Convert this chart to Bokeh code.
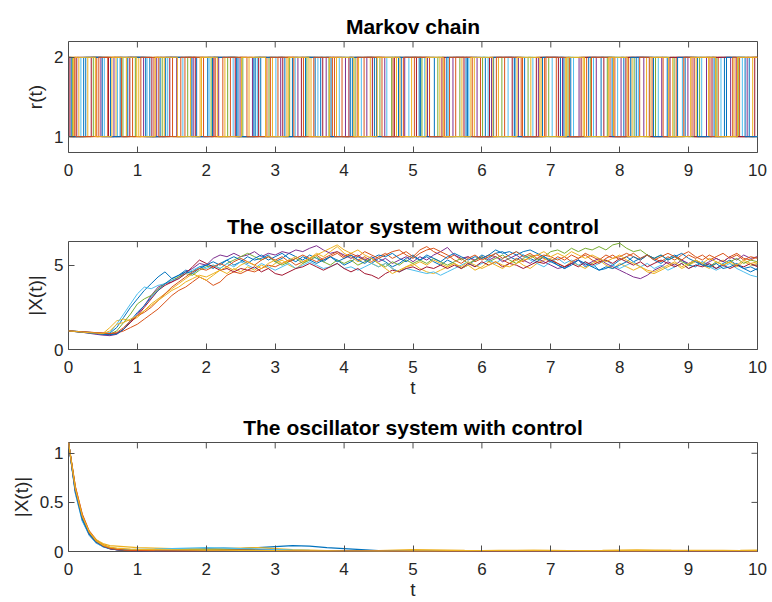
from bokeh.plotting import figure
from bokeh.layouts import column
from bokeh.models import LinearAxis, Range1d, FixedTicker
from bokeh.embed import file_html
from bokeh.resources import INLINE
import numpy as np

# ---------------- data ----------------
colors = ["#0072BD", "#D95319", "#EDB120", "#7E2F8E", "#77AC30", "#4DBEEE", "#A2142F"]

# Markov chain r(t): switching times of each sample path, and start state
markov_start = [2, 1, 2, 1, 2, 1, 2, 1, 2, 1]
m1 = [0.04, 0.22, 0.61, 0.75, 1.18, 1.33, 1.86, 2.02, 2.44, 2.71, 2.79, 3.25, 3.58, 3.66, 4.12, 4.47, 4.83, 5.09, 5.31, 5.77, 6.05, 6.48, 6.62, 7.14, 7.29, 7.73, 8.06, 8.24, 8.69, 8.95, 9.37, 9.52, 9.88]
m2 = [0.09, 0.41, 0.57, 0.93, 1.24, 1.51, 1.69, 2.13, 2.35, 2.88, 3.04, 3.41, 3.83, 3.97, 4.29, 4.71, 5.02, 5.46, 5.62, 5.98, 6.33, 6.57, 6.91, 7.08, 7.52, 7.86, 8.13, 8.47, 8.82, 9.05, 9.43, 9.74]
m3 = [0.15, 0.28, 0.69, 0.84, 1.02, 1.39, 1.77, 1.93, 2.27, 2.62, 2.96, 3.17, 3.52, 3.89, 4.21, 4.38, 4.76, 4.98, 5.39, 5.71, 5.89, 6.24, 6.71, 6.86, 7.21, 7.47, 7.91, 8.18, 8.39, 8.77, 9.11, 9.29, 9.66, 9.93]
m4 = [0.12, 0.47, 0.66, 1.09, 1.28, 1.57, 1.81, 2.18, 2.49, 2.67, 3.08, 3.33, 3.74, 4.02, 4.33, 4.59, 4.88, 5.21, 5.58, 5.93, 6.14, 6.53, 6.82, 7.17, 7.41, 7.66, 8.02, 8.35, 8.61, 8.99, 9.26, 9.61, 9.85]
m5 = [0.06, 0.36, 0.79, 0.97, 1.36, 1.73, 2.07, 2.31, 2.53, 2.91, 3.21, 3.46, 3.78, 4.16, 4.52, 4.69, 5.13, 5.36, 5.68, 6.01, 6.29, 6.67, 6.97, 7.25, 7.58, 7.82, 8.21, 8.52, 8.79, 9.16, 9.41, 9.72]
m6 = [0.18, 0.52, 0.71, 1.14, 1.44, 1.66, 2.04, 2.39, 2.74, 3.01, 3.29, 3.62, 3.93, 4.25, 4.62, 4.94, 5.17, 5.51, 5.81, 6.09, 6.38, 6.74, 7.02, 7.33, 7.62, 7.97, 8.27, 8.56, 8.91, 9.19, 9.47, 9.78]
m7 = [0.02, 0.33, 0.58, 0.89, 1.21, 1.47, 1.84, 2.11, 2.42, 2.76, 3.11, 3.38, 3.69, 4.07, 4.41, 4.73, 5.05, 5.42, 5.74, 6.11, 6.44, 6.79, 7.11, 7.44, 7.77, 8.09, 8.43, 8.73, 9.08, 9.34, 9.69, 9.96]
m8 = [0.25, 0.49, 0.86, 1.12, 1.41, 1.79, 2.09, 2.46, 2.69, 3.14, 3.44, 3.81, 4.09, 4.44, 4.79, 5.11, 5.49, 5.79, 6.17, 6.47, 6.88, 7.19, 7.55, 7.89, 8.16, 8.49, 8.84, 9.13, 9.55, 9.82]
m9 = [0.11, 0.44, 0.77, 1.05, 1.31, 1.63, 1.96, 2.24, 2.59, 2.93, 3.27, 3.56, 3.86, 4.19, 4.55, 4.86, 5.24, 5.53, 5.86, 6.21, 6.59, 6.93, 7.27, 7.59, 7.93, 8.29, 8.63, 8.93, 9.31, 9.64]
m10 = [0.07, 0.39, 0.63, 0.99, 1.26, 1.58, 1.91, 2.16, 2.51, 2.86, 3.19, 3.49, 3.79, 4.14, 4.48, 4.81, 5.19, 5.44, 5.84, 6.16, 6.51, 6.84, 7.23, 7.49, 7.84, 8.11, 8.44, 8.71, 9.03, 9.39, 9.71]
markov_switches = [m1, m2, m3, m4, m5, m6, m7, m8, m9, m10]

# |X(t)| without control, sampled at t = 0, 0.1, ..., 10
u1 = [1.10, 1.08, 1.05, 1.02, 0.98, 0.95, 0.97, 1.3, 1.9, 2.5, 3.0, 3.5, 3.9, 4.3, 4.6, 4.2, 4.4, 4.7, 4.6, 4.9, 5.0, 4.8, 5.1, 5.3, 5.0, 5.2, 5.5, 5.3, 5.4, 5.6, 5.2, 5.4, 5.7, 5.5, 5.3, 5.6, 5.4, 5.2, 5.5, 5.3, 5.0, 5.2, 5.5, 5.3, 5.1, 5.4, 5.2, 4.9, 5.1, 5.4, 5.6, 5.3, 5.5, 5.2, 5.0, 5.3, 5.1, 4.8, 5.0, 5.3, 5.6, 5.4, 5.7, 5.8, 5.5, 5.3, 5.6, 5.4, 5.2, 5.5, 5.3, 5.0, 4.8, 5.1, 5.3, 4.9, 5.1, 4.7, 4.8, 5.0, 5.3, 5.5, 5.2, 5.4, 5.6, 5.3, 5.1, 5.4, 5.6, 5.3, 5.0, 4.9, 5.2, 5.0, 4.8, 5.1, 5.3, 5.0, 4.8, 4.9, 4.7]
u2 = [1.10, 1.07, 1.04, 1.02, 1.00, 0.98, 0.95, 0.97, 1.1, 1.3, 1.5, 1.8, 2.1, 2.4, 2.8, 3.2, 3.5, 3.7, 4.0, 4.3, 4.1, 3.8, 4.0, 4.4, 4.6, 4.5, 4.7, 4.6, 4.8, 5.0, 4.9, 5.1, 5.3, 5.0, 5.2, 5.4, 5.6, 5.3, 5.5, 5.7, 5.4, 5.6, 5.3, 5.5, 5.2, 5.5, 5.7, 5.4, 5.6, 5.8, 5.5, 5.9, 6.1, 5.8, 5.6, 5.4, 5.6, 5.3, 5.5, 5.2, 5.4, 5.6, 5.5, 5.3, 5.1, 5.4, 5.2, 5.5, 5.6, 5.4, 5.2, 5.5, 5.3, 5.6, 5.4, 5.7, 5.5, 5.3, 5.6, 5.4, 5.5, 5.7, 5.5, 5.3, 5.6, 5.4, 5.2, 5.5, 5.3, 5.6, 5.8, 5.5, 5.3, 5.6, 5.4, 5.2, 5.5, 5.7, 5.4, 5.3, 5.5]
u3 = [1.10, 1.06, 1.03, 1.00, 0.97, 0.95, 1.3, 1.7, 1.8, 1.7, 1.9, 2.3, 2.7, 3.0, 3.3, 3.6, 3.9, 4.2, 4.5, 4.3, 4.1, 4.4, 4.7, 4.5, 4.8, 4.6, 4.9, 4.7, 5.0, 4.8, 5.1, 5.3, 5.0, 4.8, 5.1, 5.4, 5.7, 5.5, 5.8, 6.1, 5.7, 5.5, 5.2, 5.4, 5.1, 4.9, 5.1, 4.8, 4.6, 4.9, 5.1, 4.8, 4.6, 4.5, 4.7, 4.9, 5.1, 4.8, 5.0, 4.7, 4.9, 5.2, 5.0, 4.8, 5.1, 5.3, 5.0, 4.8, 5.1, 5.3, 5.4, 5.1, 4.9, 5.2, 5.0, 4.8, 5.1, 5.3, 5.0, 4.8, 5.1, 4.9, 4.7, 4.9, 4.6, 4.5, 4.7, 4.9, 5.1, 4.8, 5.0, 5.2, 5.0, 4.8, 5.1, 5.3, 5.1, 4.9, 5.2, 5.0, 5.1]
u4 = [1.10, 1.06, 1.02, 0.96, 0.90, 0.85, 0.82, 0.90, 1.2, 1.6, 2.1, 2.6, 3.2, 3.7, 3.9, 4.0, 4.3, 4.6, 4.8, 5.1, 5.0, 5.4, 5.6, 5.5, 5.7, 5.5, 5.6, 5.8, 5.5, 5.7, 5.6, 5.8, 5.7, 5.9, 5.8, 6.0, 6.15, 5.9, 5.7, 5.8, 5.6, 5.4, 5.6, 5.3, 5.5, 5.2, 5.4, 5.1, 5.3, 5.5, 5.2, 5.5, 5.3, 5.6, 5.8, 6.05, 5.6, 5.4, 5.5, 5.3, 5.5, 5.3, 5.5, 5.2, 5.4, 5.6, 5.3, 5.1, 5.4, 5.2, 5.0, 4.8, 4.9, 5.1, 5.3, 5.0, 5.2, 5.4, 5.1, 4.9, 4.7, 4.5, 4.3, 4.2, 4.4, 4.7, 4.9, 5.2, 5.0, 5.3, 5.1, 5.3, 5.0, 5.2, 5.4, 5.2, 5.5, 5.3, 5.6, 5.4, 5.5]
u5 = [1.10, 1.07, 1.03, 0.99, 0.96, 0.93, 0.91, 1.1, 1.6, 2.1, 2.7, 3.0, 3.2, 3.6, 3.9, 4.1, 4.3, 4.5, 4.4, 4.7, 4.9, 5.0, 4.8, 5.1, 5.3, 5.5, 5.7, 5.5, 5.3, 5.5, 5.2, 5.0, 5.2, 5.4, 5.1, 5.3, 5.5, 5.2, 5.0, 5.3, 5.1, 5.3, 5.0, 5.2, 5.4, 5.1, 4.9, 5.2, 5.0, 5.3, 5.1, 5.3, 5.1, 5.4, 5.2, 5.0, 5.2, 5.4, 5.1, 5.3, 5.5, 5.2, 5.4, 5.6, 5.3, 5.1, 5.4, 5.6, 5.3, 5.5, 5.8, 5.9, 5.7, 6.0, 5.8, 6.0, 5.9, 6.1, 5.9, 6.2, 6.3, 6.0, 5.8, 5.9, 5.6, 5.4, 5.6, 5.3, 5.5, 5.2, 5.0, 5.3, 5.1, 4.9, 5.2, 5.0, 5.2, 5.4, 5.1, 5.3, 5.2]
u6 = [1.10, 1.08, 1.05, 1.01, 0.97, 0.94, 1.0, 1.5, 2.1, 2.7, 3.3, 3.7, 3.6, 3.8, 3.9, 4.1, 4.2, 4.5, 4.7, 4.9, 4.8, 5.0, 4.8, 5.1, 4.9, 5.2, 5.0, 4.8, 5.1, 4.9, 4.7, 4.9, 5.1, 4.8, 5.0, 5.2, 5.0, 4.8, 4.9, 5.1, 4.8, 4.9, 4.7, 4.9, 5.1, 4.9, 5.1, 4.8, 4.6, 4.8, 4.7, 4.6, 4.5, 4.6, 4.4, 4.6, 4.8, 5.0, 5.2, 4.9, 5.1, 5.3, 5.1, 5.4, 5.6, 5.8, 5.6, 5.3, 5.1, 4.9, 5.2, 5.4, 5.1, 5.3, 5.0, 5.2, 4.9, 5.1, 5.3, 5.0, 4.8, 5.0, 5.2, 4.9, 5.1, 4.8, 5.0, 4.7, 4.9, 5.1, 4.8, 5.0, 5.2, 4.9, 4.7, 4.9, 5.1, 4.8, 4.6, 4.4, 4.3]
u7 = [1.10, 1.07, 1.04, 1.00, 0.96, 0.92, 0.88, 0.95, 1.2, 1.6, 2.0, 2.5, 3.0, 3.5, 3.8, 4.0, 4.2, 4.5, 4.9, 5.3, 5.1, 4.9, 4.7, 4.8, 4.6, 4.8, 4.7, 4.9, 4.6, 4.8, 4.5, 4.4, 4.6, 4.8, 4.9, 5.1, 4.9, 4.7, 4.9, 5.1, 4.8, 4.6, 4.8, 4.5, 4.4, 4.2, 4.5, 4.7, 4.6, 4.8, 4.9, 4.7, 4.9, 4.8, 5.0, 4.8, 5.0, 4.8, 5.1, 4.9, 5.2, 5.0, 5.2, 4.9, 5.1, 5.0, 4.8, 5.0, 5.2, 5.1, 5.3, 5.1, 4.9, 5.1, 4.9, 5.2, 5.0, 5.2, 5.3, 5.1, 5.4, 5.2, 5.0, 5.2, 4.9, 5.1, 5.3, 5.1, 4.9, 5.1, 4.8, 5.0, 4.9, 5.1, 4.8, 5.0, 4.8, 5.0, 4.9, 5.1, 4.9]
u8 = [1.10, 1.06, 1.02, 0.98, 0.94, 0.90, 0.87, 0.92, 1.2, 1.7, 2.2, 2.6, 3.1, 3.5, 3.9, 4.2, 4.4, 4.6, 4.5, 4.8, 5.0, 5.2, 5.0, 5.3, 5.5, 5.3, 5.1, 5.4, 5.6, 5.3, 5.5, 5.7, 5.4, 5.2, 5.5, 5.3, 5.1, 5.3, 5.5, 5.2, 5.4, 5.6, 5.3, 5.1, 5.4, 5.6, 5.5, 5.7, 5.4, 5.2, 5.5, 5.3, 5.6, 5.4, 5.2, 5.5, 5.7, 5.5, 5.3, 5.5, 5.4, 5.6, 5.9, 5.7, 5.8, 5.6, 5.8, 5.9, 5.7, 5.5, 5.2, 5.0, 4.8, 5.0, 5.3, 5.1, 4.9, 4.7, 4.9, 4.8, 5.0, 5.2, 5.5, 5.3, 5.6, 5.4, 5.6, 5.3, 5.5, 5.7, 5.4, 5.2, 5.0, 4.9, 5.1, 4.8, 4.9, 5.1, 4.8, 4.6, 4.8]
u9 = [1.10, 1.08, 1.05, 1.03, 1.00, 0.97, 0.94, 1.0, 1.3, 1.7, 2.0, 2.2, 2.5, 2.9, 3.3, 3.7, 4.0, 4.3, 4.6, 4.8, 4.7, 4.9, 5.1, 4.9, 5.2, 5.4, 5.2, 5.0, 5.3, 5.5, 5.3, 5.5, 5.2, 5.4, 5.6, 5.4, 5.2, 5.4, 5.6, 5.8, 5.5, 5.7, 5.5, 5.8, 5.6, 5.4, 5.6, 5.8, 5.9, 5.6, 5.4, 5.7, 5.9, 6.0, 5.8, 5.6, 5.3, 5.1, 5.4, 5.6, 5.3, 5.5, 5.7, 5.4, 5.6, 5.8, 5.5, 5.7, 5.4, 5.6, 5.5, 5.3, 5.5, 5.2, 5.4, 5.6, 5.3, 5.1, 5.4, 5.6, 5.3, 5.5, 5.7, 5.4, 5.6, 5.3, 5.5, 5.7, 5.5, 5.3, 5.6, 5.4, 5.6, 5.3, 5.5, 5.7, 5.4, 5.6, 5.3, 5.5, 5.4]
u10 = [1.10, 1.07, 1.03, 1.00, 0.97, 0.94, 1.1, 1.5, 1.6, 1.8, 2.0, 2.3, 2.6, 2.9, 3.2, 3.5, 3.7, 4.0, 4.2, 4.4, 4.3, 4.5, 4.7, 4.9, 4.7, 5.0, 5.2, 5.0, 4.8, 5.1, 5.3, 5.1, 5.3, 5.5, 5.2, 5.4, 5.6, 5.8, 6.0, 6.2, 5.9, 5.7, 5.9, 5.6, 5.4, 5.1, 4.8, 4.5, 4.7, 4.9, 5.0, 5.2, 5.0, 5.3, 5.1, 4.9, 5.1, 4.9, 5.2, 5.0, 4.8, 5.0, 5.2, 5.0, 4.9, 5.1, 5.3, 5.4, 5.6, 5.8, 5.5, 5.7, 5.5, 5.8, 5.6, 5.4, 5.6, 5.4, 5.2, 5.4, 5.6, 5.3, 5.1, 4.9, 4.7, 4.6, 4.8, 5.0, 5.2, 4.9, 5.1, 5.3, 5.1, 5.4, 5.2, 5.0, 5.2, 5.0, 5.3, 5.1, 5.2]
uncontrolled = [u1, u2, u3, u4, u5, u6, u7, u8, u9, u10]

# |X(t)| with control, sampled at t = 0, 0.1, ..., 1.0, then 1.25, 1.5, ..., 10
t_ctrl = [0.0, 0.1, 0.2, 0.3, 0.4, 0.5, 0.6, 0.7, 0.8, 0.9, 1.0,
          1.25, 1.5, 1.75, 2.0, 2.25, 2.5, 2.75, 3.0, 3.25, 3.5, 3.75, 4.0, 4.25, 4.5, 4.75, 5.0,
          5.25, 5.5, 5.75, 6.0, 6.25, 6.5, 6.75, 7.0, 7.25, 7.5, 7.75, 8.0,
          8.25, 8.5, 8.75, 9.0, 9.25, 9.5, 9.75, 10.0]
c1 = [1.11, 0.60, 0.32, 0.17, 0.09, 0.05, 0.03, 0.02, 0.015, 0.012, 0.010, 0.008, 0.012, 0.02, 0.03, 0.035, 0.03, 0.04, 0.05, 0.06, 0.055, 0.04, 0.03, 0.02, 0.01, 0.005, 0.004, 0.003, 0.003, 0.002, 0.002, 0.002, 0.001, 0.001, 0.001, 0.001, 0.001, 0.001, 0.001, 0.001, 0.001, 0.001, 0.001, 0.001, 0.001, 0.001, 0.001]
c2 = [1.11, 0.66, 0.38, 0.21, 0.12, 0.07, 0.04, 0.025, 0.018, 0.014, 0.011, 0.009, 0.008, 0.01, 0.012, 0.015, 0.018, 0.02, 0.015, 0.01, 0.008, 0.006, 0.005, 0.004, 0.003, 0.003, 0.002, 0.002, 0.002, 0.002, 0.001, 0.001, 0.001, 0.001, 0.001, 0.001, 0.001, 0.001, 0.001, 0.001, 0.001, 0.001, 0.001, 0.001, 0.001, 0.001, 0.001]
c3 = [1.11, 0.64, 0.36, 0.20, 0.12, 0.08, 0.06, 0.055, 0.05, 0.045, 0.04, 0.035, 0.03, 0.03, 0.025, 0.03, 0.035, 0.04, 0.03, 0.02, 0.015, 0.01, 0.01, 0.008, 0.01, 0.015, 0.02, 0.018, 0.015, 0.012, 0.01, 0.008, 0.01, 0.012, 0.01, 0.008, 0.01, 0.012, 0.015, 0.018, 0.015, 0.012, 0.01, 0.008, 0.01, 0.012, 0.015]
c4 = [1.11, 0.61, 0.33, 0.18, 0.10, 0.055, 0.03, 0.018, 0.012, 0.009, 0.007, 0.006, 0.005, 0.006, 0.008, 0.01, 0.009, 0.007, 0.006, 0.005, 0.004, 0.004, 0.003, 0.003, 0.002, 0.002, 0.002, 0.002, 0.001, 0.001, 0.001, 0.001, 0.001, 0.001, 0.001, 0.001, 0.001, 0.001, 0.001, 0.001, 0.001, 0.001, 0.001, 0.001, 0.001, 0.001, 0.001]
c5 = [1.11, 0.63, 0.35, 0.19, 0.11, 0.06, 0.035, 0.022, 0.016, 0.013, 0.012, 0.012, 0.014, 0.016, 0.018, 0.02, 0.022, 0.02, 0.015, 0.01, 0.008, 0.006, 0.005, 0.004, 0.004, 0.003, 0.003, 0.002, 0.002, 0.002, 0.002, 0.001, 0.001, 0.001, 0.001, 0.001, 0.001, 0.001, 0.001, 0.001, 0.001, 0.001, 0.001, 0.001, 0.001, 0.001, 0.001]
c6 = [1.11, 0.59, 0.31, 0.17, 0.09, 0.05, 0.03, 0.022, 0.02, 0.02, 0.022, 0.025, 0.03, 0.035, 0.04, 0.035, 0.03, 0.025, 0.02, 0.015, 0.012, 0.01, 0.008, 0.006, 0.005, 0.005, 0.006, 0.008, 0.006, 0.004, 0.003, 0.003, 0.002, 0.002, 0.002, 0.002, 0.002, 0.002, 0.001, 0.001, 0.001, 0.001, 0.001, 0.001, 0.001, 0.001, 0.001]
c7 = [1.11, 0.62, 0.34, 0.18, 0.10, 0.055, 0.03, 0.02, 0.014, 0.011, 0.009, 0.008, 0.007, 0.008, 0.01, 0.012, 0.014, 0.012, 0.01, 0.008, 0.006, 0.005, 0.004, 0.003, 0.003, 0.002, 0.002, 0.002, 0.002, 0.001, 0.001, 0.001, 0.001, 0.001, 0.001, 0.001, 0.001, 0.001, 0.001, 0.001, 0.001, 0.001, 0.001, 0.001, 0.001, 0.001, 0.001]
c8 = [1.11, 0.62, 0.33, 0.18, 0.10, 0.055, 0.032, 0.02, 0.013, 0.01, 0.008, 0.007, 0.006, 0.005, 0.005, 0.004, 0.004, 0.003, 0.003, 0.003, 0.002, 0.002, 0.002, 0.002, 0.001, 0.001, 0.001, 0.001, 0.001, 0.001, 0.001, 0.001, 0.001, 0.001, 0.001, 0.001, 0.001, 0.001, 0.001, 0.001, 0.001, 0.001, 0.001, 0.001, 0.001, 0.001, 0.001]
c9 = [1.11, 0.65, 0.37, 0.20, 0.11, 0.06, 0.035, 0.022, 0.015, 0.012, 0.01, 0.008, 0.007, 0.006, 0.006, 0.007, 0.008, 0.007, 0.006, 0.005, 0.004, 0.004, 0.003, 0.003, 0.003, 0.002, 0.002, 0.002, 0.002, 0.002, 0.002, 0.002, 0.002, 0.002, 0.002, 0.002, 0.002, 0.002, 0.002, 0.002, 0.002, 0.002, 0.002, 0.002, 0.002, 0.002, 0.002]
c10 = [1.11, 0.64, 0.36, 0.20, 0.11, 0.065, 0.045, 0.035, 0.03, 0.025, 0.022, 0.02, 0.018, 0.016, 0.015, 0.014, 0.012, 0.01, 0.008, 0.007, 0.006, 0.006, 0.005, 0.005, 0.004, 0.005, 0.006, 0.007, 0.008, 0.009, 0.01, 0.011, 0.012, 0.012, 0.011, 0.01, 0.009, 0.008, 0.008, 0.009, 0.01, 0.011, 0.012, 0.012, 0.011, 0.01, 0.009]
controlled = [c1, c2, c3, c4, c5, c6, c7, c8, c9, c10]

x_ticks = [0, 1, 2, 3, 4, 5, 6, 7, 8, 9, 10]

# ---------------- styling helpers ----------------
FONT = "Liberation Sans"
TXT = "#262626"
FRAME = "#4d4d4d"
TICK_PX = 6


def make_fig(height, ylim, yticks, title, ylabel, xlabel, top, bottom):
    frame_h = height - top - bottom
    frame_w = 772 - 68 - 15
    p = figure(width=772, height=height, x_range=Range1d(0, 10), y_range=Range1d(*ylim),
               output_backend="svg", toolbar_location=None,
               min_border_left=68, min_border_right=15,
               min_border_top=top, min_border_bottom=bottom,
               x_axis_location=None, y_axis_location=None)
    p.background_fill_color = "white"
    p.border_fill_color = "white"
    p.outline_line_color = FRAME
    p.outline_line_width = 1
    p.xgrid.visible = False
    p.ygrid.visible = False

    p.title.text = title
    p.title.align = "center"
    p.title.text_font = FONT
    p.title.text_font_size = "21px"
    p.title.text_font_style = "bold"
    p.title.text_color = "#000000"
    p.title.standoff = 7

    def style(ax):
        ax.axis_line_color = None
        ax.major_tick_line_color = FRAME
        ax.major_tick_in = TICK_PX
        ax.major_tick_out = 0
        ax.minor_tick_line_color = None
        ax.major_label_text_font = FONT
        ax.major_label_text_color = TXT
        ax.major_label_text_font_size = "17px"
        ax.axis_label_text_font = FONT
        ax.axis_label_text_font_size = "19px"
        ax.axis_label_text_font_style = "normal"
        ax.axis_label_text_color = TXT

    xb = LinearAxis(ticker=FixedTicker(ticks=x_ticks))
    style(xb)
    xb.major_label_standoff = 11
    if xlabel:
        xb.axis_label = xlabel
        xb.axis_label_standoff = 1
    p.add_layout(xb, "below")

    yl = LinearAxis(ticker=FixedTicker(ticks=yticks), axis_label=ylabel)
    style(yl)
    yl.major_label_standoff = 5
    yl.axis_label_standoff = 5
    p.add_layout(yl, "left")

    # mirrored inward ticks on the top and right edges of the box
    y0, y1 = ylim
    dy = (y1 - y0) * TICK_PX / frame_h
    dx = 10.0 * TICK_PX / frame_w
    p.segment(x0=x_ticks, y0=[y1] * len(x_ticks), x1=x_ticks, y1=[y1 - dy] * len(x_ticks),
              line_color=FRAME, line_width=1)
    p.segment(x0=[10.0] * len(yticks), y0=yticks, x1=[10.0 - dx] * len(yticks), y1=yticks,
              line_color=FRAME, line_width=1)
    return p


# ---------------- panel 1: Markov chain ----------------
p1 = make_fig(200, (0.8, 2.2), [1, 2], "Markov chain", "r(t)", None, 41, 48)
for i, (sw, s0) in enumerate(zip(markov_switches, markov_start)):
    xs, ys, cur = [0.0], [s0], s0
    for s in sw:
        xs += [s, s]
        ys += [cur, 3 - cur]
        cur = 3 - cur
    xs.append(10.0)
    ys.append(cur)
    p1.line(xs, ys, line_color=colors[i % 7], line_width=1)

# ---------------- panel 2: without control ----------------
p2 = make_fig(200, (0, 6.4), [0, 5], "The oscillator system without control", "|X(t)|", "t", 41, 48)
for i, ser in enumerate(uncontrolled):
    tt = np.linspace(0, 10, len(ser))
    p2.line(tt, ser, line_color=colors[i % 7], line_width=1)

# ---------------- panel 3: with control ----------------
p3 = make_fig(202, (0, 1.11), [0, 0.5, 1], "The oscillator system with control", "|X(t)|", "t", 42, 50)
for i, ser in enumerate(controlled):
    n = min(len(ser), len(t_ctrl))
    p3.line(t_ctrl[:n], ser[:n], line_color=colors[i % 7], line_width=1.2)

layout = column(p1, p2, p3, spacing=0)
open("out.html", "w").write(file_html(layout, INLINE))
